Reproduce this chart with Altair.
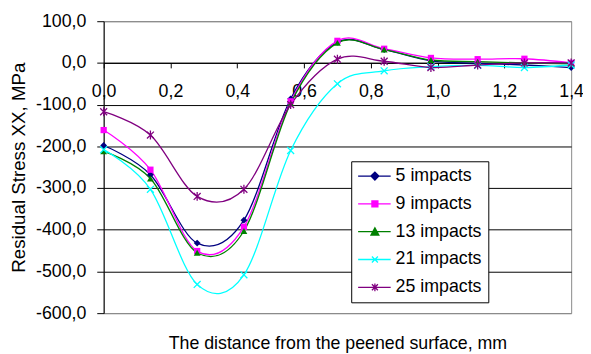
import altair as alt
import pandas as pd

# ---- data ----
x_mm = [0.0, 0.14, 0.28, 0.42, 0.56, 0.70, 0.84, 0.98, 1.12, 1.26, 1.40]
s5 = [-198, -268, -432, -377, -86, 50, 32, 5, -1, -5, -11]
s9 = [-161, -256, -451, -393, -92, 53, 34, 12, 9, 10, 0]
s13 = [-212, -277, -455, -403, -97, 48, 32, 7, 3, 0, -2]
s21 = [-208, -303, -531, -508, -210, -50, -19, -9, -6, -11, -5]
s25 = [-117, -173, -320, -303, -100, 9, 4, -11, -5, 0, 0]

series_names = ["5 impacts", "9 impacts", "13 impacts", "21 impacts", "25 impacts"]
series_colors = ["#000080", "#FF00FF", "#008000", "#00FFFF", "#800080"]
y_ticks = [100, 0, -100, -200, -300, -400, -500, -600]
x_ticks = [0.0, 0.2, 0.4, 0.6, 0.8, 1.0, 1.2, 1.4]

rows = []
for name, vals in zip(series_names, [s5, s9, s13, s21, s25]):
    for xv, yv in zip(x_mm, vals):
        rows.append({"series": name, "x": xv, "y": yv})
df = pd.DataFrame(rows)

FONT = "Liberation Sans"

marker_shapes = [
    "diamond",
    "square",
    "triangle-up",
    "M-1,-1L1,1M-1,1L1,-1",
    "M-1,-1L1,1M-1,1L1,-1M0,-1.3L0,1.3",
]
marker_filled = [True, True, True, False, False]
marker_sizes = [48, 40, 48, 49, 49]


def fmt(v):
    return f"{v:.3f}"


LINE = "M-1,0L3.125,0"
CX = 1.125


def diamond_rings(hs):
    return "".join(f"M{fmt(CX-h)},0L{fmt(CX)},{fmt(-h)}L{fmt(CX+h)},0L{fmt(CX)},{fmt(h)}Z" for h in hs)


def square_rings(hs):
    return "".join(
        f"M{fmt(CX-h)},{fmt(-h)}L{fmt(CX+h)},{fmt(-h)}L{fmt(CX+h)},{fmt(h)}L{fmt(CX-h)},{fmt(h)}Z" for h in hs
    )


def triangle_rings(hs):
    return "".join(
        f"M{fmt(CX)},{fmt(-h)}L{fmt(CX+h)},{fmt(0.85*h)}L{fmt(CX-h)},{fmt(0.85*h)}Z" for h in hs
    )


legend_shapes = [
    LINE + diamond_rings([0.5, 0.33, 0.17]) + f"M{fmt(CX)},-0.1L{fmt(CX)},0.1",
    LINE + square_rings([0.38, 0.25, 0.12]),
    LINE + triangle_rings([0.5, 0.33, 0.17]),
    LINE + f"M{fmt(CX-0.38)},-0.38L{fmt(CX+0.38)},0.38M{fmt(CX-0.38)},0.38L{fmt(CX+0.38)},-0.38",
    LINE + f"M{fmt(CX-0.38)},-0.38L{fmt(CX+0.38)},0.38M{fmt(CX-0.38)},0.38L{fmt(CX+0.38)},-0.38"
    + f"M{fmt(CX)},-0.5L{fmt(CX)},0.5",
]

x_enc = alt.X(
    "x:Q",
    scale=alt.Scale(domain=[0, 1.4], nice=False),
    axis=alt.Axis(
        values=x_ticks,
        labelExpr="replace(format(datum.value, '.1f'), '.', ',')",
        grid=False,
        offset=-253.7,
        domainColor="black",
        tickColor="black",
        tickSize=5,
        labelPadding=15,
        labelFontSize=18,
        labelFont=FONT,
        labelColor="black",
        labelFlush=False,
        labelOverlap=False,
        title="The distance from the peened surface, mm",
        titleFont=FONT,
        titleFontSize=18,
        titleFontWeight="normal",
        titleColor="black",
        titleY=285,
        titleBaseline="middle",
    ),
)
y_enc = alt.Y(
    "y:Q",
    scale=alt.Scale(domain=[-600, 100], nice=False),
    axis=alt.Axis(
        values=y_ticks,
        labelExpr="datum.value + ',0'",
        grid=True,
        gridColor=alt.condition("datum.value == 100 || datum.value == -600",
                                alt.value("#888888"), alt.value("black")),
        gridOpacity=1,
        domainColor="black",
        tickColor="black",
        tickSize=7,
        labelPadding=11,
        labelFontSize=18,
        labelFont=FONT,
        labelColor="black",
        title="Residual Stress XX, MPa",
        titleFont=FONT,
        titleFontSize=19,
        titleFontWeight="normal",
        titleColor="black",
        titleX=-86,
        titleY=148,
        titleAngle=270,
        titleAlign="center",
        titleBaseline="middle",
    ),
)

base = alt.Chart(df)

# layer that carries the legend (size 0 so its own points are invisible)
legend_layer = base.mark_point(filled=False, opacity=1, strokeWidth=1.3, size=0).encode(
    x=x_enc,
    y=y_enc,
    color=alt.Color("series:N", scale=alt.Scale(domain=series_names, range=series_colors),
                    legend=alt.Legend(title=None, orient="none", legendX=251, legendY=142)),
    shape=alt.Shape("series:N", scale=alt.Scale(domain=series_names, range=legend_shapes)),
)

layers = [legend_layer]

layers.append(
    base.mark_line(interpolate="cardinal", strokeWidth=1.3).encode(
        x=x_enc,
        y=y_enc,
        stroke=alt.Stroke("series:N", scale=alt.Scale(domain=series_names, range=series_colors),
                          legend=None),
        detail="series:N",
    )
)

for name, col, shp, filled, sz in zip(series_names, series_colors, marker_shapes,
                                      marker_filled, marker_sizes):
    if filled:
        mark_kw = dict(filled=True, opacity=1, size=sz, shape=shp, fill=col, strokeWidth=0)
    else:
        mark_kw = dict(filled=False, opacity=1, size=sz, shape=shp, stroke=col, strokeWidth=1.3)
    layers.append(
        base.transform_filter(alt.datum.series == name).mark_point(**mark_kw).encode(
            x=x_enc, y=y_enc
        )
    )

chart = alt.layer(*layers).properties(
    width=474,
    height=296,
    autosize=alt.AutoSizeParams(type="none"),
    padding={"left": 97, "top": 11, "right": 12, "bottom": 39},
    background="white",
).configure_view(stroke="#888888", strokeWidth=1).configure_legend(
    padding=6,
    rowPadding=10.2,
    strokeColor="black",
    fillColor="white",
    symbolSize=256,
    symbolStrokeWidth=1.3,
    labelFont=FONT,
    labelFontSize=18,
    labelColor="black",
    labelOffset=21,
    cornerRadius=0,
)

chart.save("out.html", embed_options={"renderer": "svg", "actions": False})
